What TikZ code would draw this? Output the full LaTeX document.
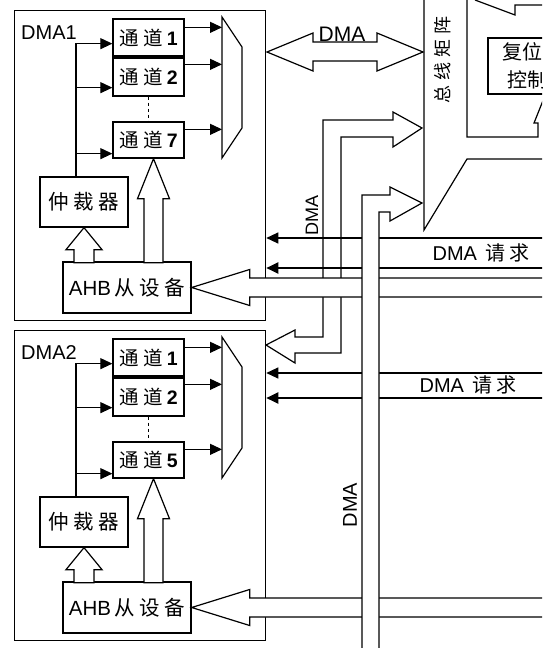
\documentclass[tikz,border=0pt]{standalone}
\usepackage{fontspec}
\setmainfont{Liberation Sans}
\newfontfamily\cjk{Noto Sans CJK SC}
\newfontfamily\cjksp[LetterSpace=22]{Noto Sans CJK SC}
\usetikzlibrary{arrows.meta}
\tikzset{
    frame-box/.style = {draw, line width=1.3pt, rectangle, anchor=north west, inner sep=0pt, minimum width=251pt, minimum height=310pt},
    chan-box/.style = {draw, line width=1.3pt, rectangle, minimum width=71pt, inner sep=0pt, font=\fontsize{19.5}{22}\selectfont},
    plain-box/.style = {draw, line width=1.3pt, fill=white, rectangle, inner sep=0pt, font=\fontsize{20.5}{24}\selectfont},
    rst-box/.style = {draw, line width=2.4pt, fill=white, rectangle, anchor=north west, minimum height=56pt, text width=100pt, inner xsep=14pt, align=left, font=\fontsize{20}{28}\selectfont},
    label-text/.style = {inner sep=0pt, font=\fontsize{20}{22}\selectfont},
    sig/.style = {line width=1.2pt, -{Triangle[length=12pt,width=11pt]}},
    hollow/.style = {draw, fill=white, line width=1.2pt},
    plain-line/.style = {line width=1.2pt},
}

\begin{document}
\begin{tikzpicture}[x=1pt, y=-1pt]
\useasboundingbox (0,0) rectangle (542,648);
\clip (0,0) rectangle (542,648);

% bus matrix and reset block (cut by the page edge)
\draw[plain-line] (424,-5) -- (424,230) -- (467,159) -- (560,159);
\draw[plain-line] (467,-5) -- (467,137) -- (538,137) -- (538,123) -- (534,123) -- (546,93);
\draw[plain-line] (475,0) -- (515,15) -- (515,5) -- (560,5);
\node[rst-box] (rst) at (487,37) {{\cjk 复位}\\\hspace*{5pt}{\cjk 控制}};
\node[label-text, rotate=90] (matrix) at (443,60) {\fontsize{18}{20}\selectfont\cjksp 总\hspace{5pt}线\hspace{5pt}矩\hspace{5pt}阵};

% DMA between DMA1 and the matrix
\draw[hollow] (267,52) -- (313,33) -- (313,42) -- (377,42) -- (377,33) -- (423,52)
    -- (377,71) -- (377,61) -- (313,61) -- (313,71) -- cycle;
\node[label-text, anchor=base, font=\fontsize{21}{22}\selectfont] (dma-top) at (342,41) {DMA};

% DMA2 to the matrix
\draw[hollow] (266,345) -- (295,330) -- (295,337) -- (323,337) -- (323,120) -- (393,120)
    -- (393,112) -- (422,128) -- (393,147) -- (393,137) -- (341,137) -- (341,353)
    -- (295,353) -- (295,363) -- cycle;
\node[label-text, rotate=90, font=\fontsize{18}{20}\selectfont] (dma-left) at (312,215) {DMA};

\foreach \unit/\dy/\chn in {1/0/7, 2/320/5} {
  \begin{scope}[shift={(0,\dy)}]
    \node[frame-box] (frame-\unit) at (14,10) {};
    \node[label-text, anchor=west] (name-\unit) at (21,33) {DMA\unit};
    \node[chan-box, minimum height=37pt] (ch1-\unit) at (148.5,37.5) {{\cjksp 通道}\textbf{1}};
    \node[chan-box, minimum height=38pt] (ch2-\unit) at (148.5,77) {{\cjksp 通道}\textbf{2}};
    \node[chan-box, minimum height=36pt] (chn-\unit) at (148.5,140) {{\cjksp 通道}\textbf{\chn}};
    \draw[plain-line, dash pattern=on 3pt off 3pt] (ch2-\unit.south) -- (chn-\unit.north);
    \node[plain-box, minimum width=88pt, minimum height=50pt] (arb-\unit) at (84,202) {\cjksp 仲裁器};
    \node[plain-box, minimum width=128pt, minimum height=51pt] (ahb-\unit) at (127,287.5) {AHB\,{\cjksp 从设备}};
    % multiplexer
    \coordinate (mux-\unit) at (222,17);
    \draw[plain-line] (mux-\unit) -- (242,47) -- (242,128) -- (222,158) -- cycle;
    \draw[sig] ([yshift=-9pt]ch1-\unit.north east) -- ([yshift=-9pt]ch1-\unit.north east -| mux-\unit);
    \draw[sig] ([yshift=-7pt]ch2-\unit.north east) -- ([yshift=-7pt]ch2-\unit.north east -| mux-\unit);
    \draw[sig] ([yshift=-8pt]chn-\unit.north east) -- ([yshift=-8pt]chn-\unit.north east -| mux-\unit);
    % arbiter to the channels
    \draw[sig] ([xshift=-8pt]arb-\unit.north) |- ([yshift=13pt]ch1-\unit.south west);
    \draw[sig] ([xshift=-8pt]arb-\unit.north) |- ([yshift=9pt]ch2-\unit.south west);
    \draw[sig] ([xshift=-8pt]arb-\unit.north) |- ([yshift=5pt]chn-\unit.south west);
    % AHB slave up to the arbiter and the last channel
    \draw[hollow] (arb-\unit.south) -- ++(18,22) -- ++(-8,0) -- ++(0,13) -- ++(-20,0) -- ++(0,-13) -- ++(-8,0) -- cycle;
    \draw[hollow] ([xshift=5pt]chn-\unit.south) -- ++(16,40) -- ++(-6.5,0) -- ++(0,64) -- ++(-19,0) -- ++(0,-64) -- ++(-6.5,0) -- cycle;
    % bus into the AHB slave
    \draw[hollow] (ahb-\unit.east) -- ++(58,-18) -- ++(0,8.5) -- ++(340,0) -- ++(0,19) -- ++(-340,0) -- ++(0,8.5) -- cycle;
  \end{scope}
}

% DMA requests
\draw[sig] (560,238) -- (560,238 -| frame-1.east);
\draw[sig, line width=2.2pt] (560,268) -- (560,268 -| frame-1.east);
\node[label-text] (req-1) at (481,253) {DMA\hspace{8pt}{\cjksp 请求}};
\draw[sig] (560,373) -- (560,373 -| frame-2.east);
\draw[sig, line width=2.2pt] (560,398) -- (560,398 -| frame-2.east);
\node[label-text] (req-2) at (468,385) {DMA\hspace{8pt}{\cjksp 请求}};

% DMA down the page
\draw[hollow] (362,660) -- (362,195) -- (390,195) -- (390,187) -- (422,203) -- (390,221)
    -- (390,212) -- (379,212) -- (379,660);
\node[label-text, rotate=90] (dma-right) at (350,505) {DMA};
\end{tikzpicture}
\end{document}
